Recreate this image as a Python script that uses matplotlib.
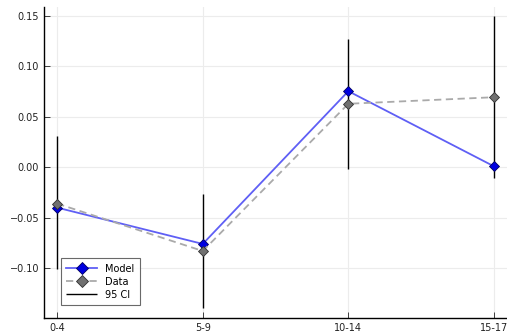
import numpy as np
import matplotlib
matplotlib.use("Agg")
import matplotlib.pyplot as plt

# age groups and values
groups = ["0-4", "5-9", "10-14", "15-17"]
model = [-0.040, -0.076, 0.0755, 0.001]
data = [-0.036, -0.083, 0.063, 0.0695]
ci_low = [-0.101, -0.140, -0.002, -0.011]
ci_high = [0.031, -0.026, 0.127, 0.150]

x = np.arange(len(groups))

fig = plt.figure(figsize=(5.07, 3.32), dpi=100)
ax = fig.add_axes([0.087, 0.042, 0.913, 0.937])

ax.plot(x, model, color="#5f5ff5", lw=1.3, marker="D", ms=5,
        mfc="#0000e0", mec="#000060", mew=0.6, label="Model", zorder=3)
ax.plot(x, data, color="#aaaaaa", lw=1.3, ls=(0, (4, 2.5)), marker="D", ms=5,
        mfc="#707070", mec="#303030", mew=0.6, label="Data", zorder=3)
ax.vlines(x, ci_low, ci_high, color="black", lw=1.0, label="95 CI", zorder=2)

ax.set_xlim(-0.09, 3.09)
ax.set_ylim(-0.1495, 0.159)
ax.set_xticks(x)
ax.set_xticklabels(groups)
ax.set_yticks([-0.10, -0.05, 0.0, 0.05, 0.10, 0.15])
ax.set_yticklabels(["\u22120.10", "\u22120.05", "0.00", "0.05", "0.10", "0.15"])

ax.grid(True, color="#ececec", lw=0.8)
ax.set_axisbelow(True)
for s in ["top", "right"]:
    ax.spines[s].set_visible(False)
ax.spines["left"].set_linewidth(1.0)
ax.spines["bottom"].set_linewidth(1.0)
ax.tick_params(direction="in", length=4, width=0.6, labelsize=7, colors="#222222")

leg = ax.legend(loc="lower left", bbox_to_anchor=(0.025, 0.025), fontsize=7,
                frameon=True, fancybox=False, edgecolor="#444444",
                handlelength=3.2, borderpad=0.6, labelspacing=0.3,
                markerscale=1.3)
leg.get_frame().set_linewidth(0.8)

fig.savefig("out.png", dpi=100)
